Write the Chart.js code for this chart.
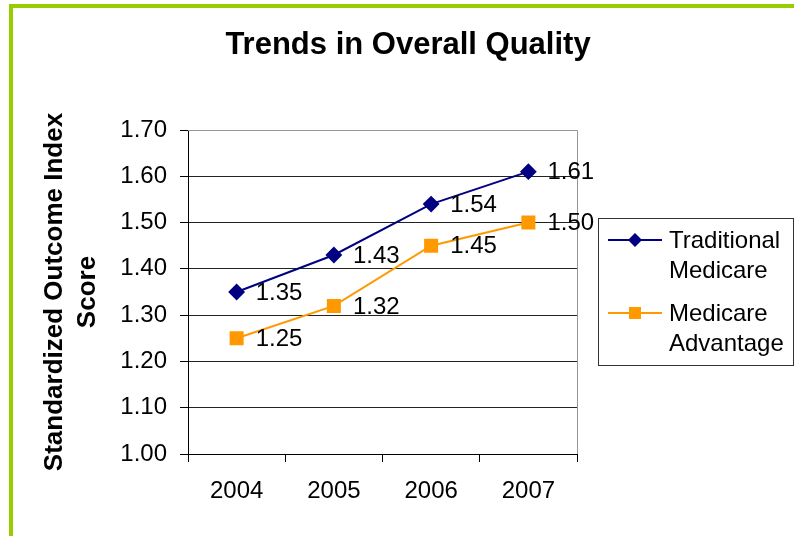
<!DOCTYPE html>
<html>
<head>
<meta charset="utf-8">
<title>Trends in Overall Quality</title>
<script src="https://cdn.jsdelivr.net/npm/chart.js@4.4.1/dist/chart.umd.min.js"></script>
<style>
    html, body { margin: 0; padding: 0; background: #fff; overflow: hidden; }
    #wrap { position: relative; width: 794px; height: 536px; }
    #frame {
        position: absolute; left: 9px; top: 4px; width: 900px; height: 700px;
        border-left: 4px solid #99cc00; border-top: 4px solid #99cc00;
    }
    canvas { position: absolute; left: 0; top: 0; }
</style>
</head>
<body>
<div id="wrap">
    <div id="frame"></div>
    <canvas id="qualityChart" width="794" height="536"></canvas>
</div>
<script>
// 数据
const years = ['2004', '2005', '2006', '2007'];
const traditional = [1.35, 1.43, 1.54, 1.61];
const advantage = [1.25, 1.32, 1.45, 1.50];
const seriesNames = ['Traditional Medicare', 'Medicare Advantage'];
const legendLines = [['Traditional', 'Medicare'], ['Medicare', 'Advantage']];
const yTicks = [1.00, 1.10, 1.20, 1.30, 1.40, 1.50, 1.60, 1.70];
const chartTitle = 'Trends in Overall Quality';
const yTitle = ['Standardized Outcome Index', 'Score'];

const FONT = 'Arial, "Liberation Sans", sans-serif';

// 画点标记
function drawMarker(ctx, style, x, y, r, color) {
    ctx.save();
    ctx.fillStyle = color;
    ctx.beginPath();
    if (style === 'rectRot') {
        ctx.moveTo(x, y - r);
        ctx.lineTo(x + r, y);
        ctx.lineTo(x, y + r);
        ctx.lineTo(x - r, y);
        ctx.closePath();
    } else {
        const s = r * Math.SQRT1_2;
        ctx.rect(x - s, y - s, 2 * s, 2 * s);
    }
    ctx.fill();
    ctx.restore();
}

// 标题、边框、数据标签和图例
const extrasPlugin = {
    id: 'extras',
    afterDraw(chart) {
        const ctx = chart.ctx;
        const area = chart.chartArea;

        ctx.save();
        // 绘图区上边和右边
        ctx.strokeStyle = '#969696';
        ctx.lineWidth = 1;
        ctx.beginPath();
        ctx.moveTo(area.left, area.top + 0.5);
        ctx.lineTo(area.right + 0.5, area.top + 0.5);
        ctx.lineTo(area.right + 0.5, area.bottom);
        ctx.stroke();

        // 标题
        ctx.fillStyle = '#000';
        ctx.font = 'bold 31px ' + FONT;
        ctx.textAlign = 'center';
        ctx.textBaseline = 'middle';
        ctx.fillText(chartTitle, 408, 45);

        // 数据标签
        ctx.font = '24px ' + FONT;
        ctx.textAlign = 'left';
        chart.data.datasets.forEach((ds, i) => {
            const meta = chart.getDatasetMeta(i);
            meta.data.forEach((pt, j) => {
                ctx.fillText(ds.data[j].toFixed(2), pt.x + 19, pt.y + 1);
            });
        });

        // 图例
        const lx = 598, ly = 218, lw = 196, lh = 148;
        ctx.fillStyle = '#fff';
        ctx.fillRect(lx, ly, lw, lh);
        ctx.strokeStyle = '#333';
        ctx.strokeRect(lx + 0.5, ly + 0.5, lw - 1, lh - 1);
        chart.data.datasets.forEach((ds, i) => {
            const y = ly + 22 + i * 73;
            ctx.strokeStyle = ds.borderColor;
            ctx.lineWidth = 2;
            ctx.beginPath();
            ctx.moveTo(608, y);
            ctx.lineTo(662, y);
            ctx.stroke();
            drawMarker(ctx, ds.pointStyle, 635, y, ds.pointRadius, ds.backgroundColor);
            ctx.fillStyle = '#000';
            ctx.font = '24px ' + FONT;
            ctx.textAlign = 'left';
            ctx.textBaseline = 'middle';
            legendLines[i].forEach((t, k) => ctx.fillText(t, 669, y + 1 + k * 30));
        });
        ctx.restore();
    }
};

const ctx = document.getElementById('qualityChart');
new Chart(ctx, {
    type: 'line',
    data: {
        labels: years,
        datasets: [{
            label: seriesNames[0],
            data: traditional,
            borderColor: '#000080',
            backgroundColor: '#000080',
            borderWidth: 2,
            pointStyle: 'rectRot',
            pointRadius: 7,
            pointHoverRadius: 7,
            tension: 0
        }, {
            label: seriesNames[1],
            data: advantage,
            borderColor: '#ff9900',
            backgroundColor: '#ff9900',
            borderWidth: 2,
            pointStyle: 'rect',
            pointRadius: 8.5,
            pointHoverRadius: 8.5,
            tension: 0
        }]
    },
    options: {
        responsive: false,
        animation: false,
        layout: {
            padding: { left: 30, top: 130, right: 217, bottom: 22 }
        },
        scales: {
            x: {
                offset: true,
                grid: {
                    offset: true,
                    drawOnChartArea: false,
                    drawTicks: true,
                    tickLength: 8,
                    color: '#000',
                    tickColor: '#000'
                },
                border: { color: '#000', width: 1 },
                ticks: {
                    color: '#000',
                    font: { family: FONT, size: 24 },
                    padding: 15,
                    maxRotation: 0
                },
                afterFit(scale) { scale.height = 60; }
            },
            y: {
                min: yTicks[0],
                max: yTicks[yTicks.length - 1],
                afterBuildTicks(scale) {
                    scale.ticks = yTicks.map(v => ({ value: v }));
                },
                grid: {
                    color: (c) => (c.tick && Math.abs(c.tick.value - 1.7) < 1e-6) ? '#969696' : '#222',
                    tickColor: '#000',
                    tickLength: 8,
                    lineWidth: 1
                },
                border: { color: '#000', width: 1 },
                ticks: {
                    color: '#000',
                    font: { family: FONT, size: 24 },
                    padding: 13,
                    callback: (v) => Number(v).toFixed(2)
                },
                title: {
                    display: true,
                    text: yTitle,
                    color: '#000',
                    font: { family: FONT, size: 26, weight: 'bold', lineHeight: 1.27 },
                    padding: { top: 8.5, bottom: 0 }
                },
                afterFit(scale) { scale.width = 158; }
            }
        },
        plugins: {
            legend: { display: false },
            title: { display: false },
            tooltip: { enabled: false }
        }
    },
    plugins: [extrasPlugin]
});
</script>
</body>
</html>
